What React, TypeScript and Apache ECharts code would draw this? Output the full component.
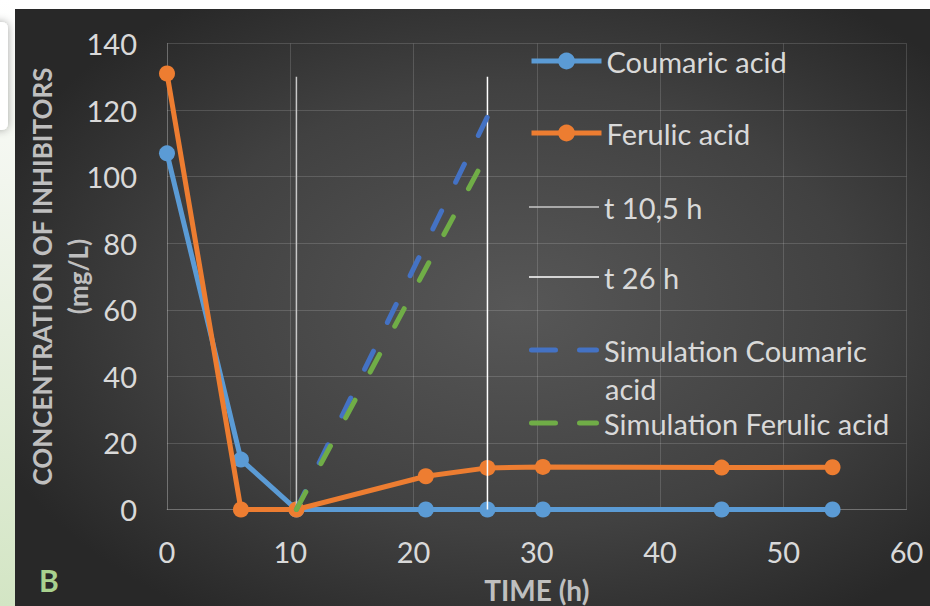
import React, { useEffect, useRef } from "react";
import * as echarts from "echarts";

const timeH = [0, 6, 10.5, 21, 26, 30.5, 45, 54];
const coumaric = [107, 15, 0, 0, 0, 0, 0, 0];
const ferulic = [131, 0, 0, 10, 12.5, 12.8, 12.6, 12.7];
const simTime = [10.5, 26];
const simCoumaric = [0, 118];
const simFerulic = [0, 107];
const t105Time = [10.5, 10.5];
const t26Time = [26, 26];
const tLineValues = [0, 130];
const seriesNames = [
  "Coumaric acid",
  "Ferulic acid",
  "t 10,5 h",
  "t 26 h",
  "Simulation Coumaric acid",
  "Simulation Ferulic acid",
];

const zip = (xs: number[], ys: number[]) => xs.map((x, i) => [x, ys[i]]);

const FONT = "Lato";
const TXT = "#d9d9d9";
const DASH_ICON =
  "path://M2.5,0 h24 a2.5,2.5 0 0 1 0,5 h-24 a2.5,2.5 0 0 1 0,-5 z M50.5,0 h17 a2.5,2.5 0 0 1 0,5 h-17 a2.5,2.5 0 0 1 0,-5 z";

export default function App() {
  const ref = useRef<HTMLDivElement>(null);
  useEffect(() => {
    const chart = echarts.init(ref.current!, null, { renderer: "svg" });
    const legendYs = [61, 133, 207, 277, 350, 423];
    const textStyle = { color: TXT, fontFamily: FONT, fontSize: 29, lineHeight: 32 };
    const legends = seriesNames.map((name, i) => {
      const base: any = {
        left: 529,
        top: legendYs[i] - 16,
        padding: 0,
        itemWidth: 70,
        itemGap: 5,
        selectedMode: false,
        formatter: (n: string) => (n === "Simulation Coumaric acid" ? "Simulation Coumaric" : n),
        textStyle,
      };
      if (i < 2) {
        return { ...base, data: [name], itemHeight: 21, lineStyle: { width: 5 } };
      }
      if (i < 4) {
        return { ...base, data: [{ name, icon: "rect" }], itemHeight: 1.5 };
      }
      return { ...base, data: [{ name, icon: DASH_ICON }], itemHeight: 5 };
    });
    chart.setOption({
      animation: false,
      graphic: [
        {
          type: "rect",
          z: -10,
          silent: true,
          shape: { x: 0, y: 0, width: 15, height: 606 },
          style: {
            fill: new echarts.graphic.LinearGradient(0, 0, 0, 1, [
              { offset: 0, color: "#ffffff" },
              { offset: 0.3, color: "#f2f6ee" },
              { offset: 1, color: "#d3e5c4" },
            ]),
          },
        },
        {
          type: "rect",
          z: -9,
          silent: true,
          shape: { x: -10, y: 22, width: 18, height: 108, r: 6 },
          style: { fill: "#ffffff", shadowBlur: 8, shadowColor: "rgba(0,0,0,0.35)" },
        },
        {
          type: "rect",
          z: -8,
          silent: true,
          shape: { x: 15, y: 9, width: 915, height: 597 },
          style: {
            fill: new echarts.graphic.RadialGradient(0.55, 0.5, 0.62, [
              { offset: 0, color: "#575757" },
              { offset: 0.6, color: "#414141" },
              { offset: 1, color: "#282828" },
            ]),
          },
        },
        {
          type: "text",
          left: 39,
          top: 565,
          style: { text: "B", fill: "#a9d18e", font: `bold 30px ${FONT}` },
        },
        {
          type: "text",
          left: 605,
          top: 388 - 16,
          style: { text: "acid", fill: TXT, font: `29px ${FONT}`, lineHeight: 32 },
        },
      ],
      legend: legends,
      grid: { left: 167, right: 23.5, top: 43.5, bottom: 96.5, outerBoundsMode: "none", containLabel: false },
      xAxis: {
        type: "value",
        min: 0,
        max: 60,
        interval: 10,
        name: "TIME (h)",
        nameLocation: "middle",
        nameGap: 66,
        nameMoveOverlap: false,
        nameTextStyle: { color: "#bfbfbf", fontFamily: FONT, fontSize: 28, fontWeight: "bold", verticalAlign: "top" },
        axisLine: { show: true, lineStyle: { color: "rgba(255,255,255,0.18)", width: 1 } },
        axisTick: { show: false },
        axisLabel: { color: TXT, fontFamily: FONT, fontSize: 29, margin: 27 },
        splitLine: { show: true, lineStyle: { color: "rgba(255,255,255,0.15)", width: 1 } },
      },
      yAxis: {
        type: "value",
        min: 0,
        max: 140,
        interval: 20,
        name: "CONCENTRATION OF INHIBITORS\n(mg/L)",
        nameLocation: "middle",
        nameRotate: 90,
        nameGap: 71,
        nameMoveOverlap: false,
        nameTextStyle: { color: "#bfbfbf", fontFamily: FONT, fontSize: 26, fontWeight: "bold", lineHeight: 36 },
        axisLine: { show: true, lineStyle: { color: "rgba(255,255,255,0.18)", width: 1 } },
        axisTick: { show: false },
        axisLabel: { color: TXT, fontFamily: FONT, fontSize: 29, margin: 30 },
        splitLine: { show: true, lineStyle: { color: "rgba(255,255,255,0.15)", width: 1 } },
      },
      series: [
        {
          name: seriesNames[0],
          type: "line",
          data: zip(timeH, coumaric),
          color: "#5B9BD5",
          symbol: "circle",
          symbolSize: 16,
          lineStyle: { width: 5 },
          z: 2,
        },
        {
          name: seriesNames[1],
          type: "line",
          data: zip(timeH, ferulic),
          color: "#ED7D31",
          symbol: "circle",
          symbolSize: 16,
          lineStyle: { width: 5 },
          z: 3,
        },
        {
          name: seriesNames[2],
          type: "line",
          data: zip(t105Time, tLineValues),
          color: "#c8c8c8",
          symbol: "none",
          lineStyle: { width: 1.5 },
          z: 4,
        },
        {
          name: seriesNames[3],
          type: "line",
          data: zip(t26Time, tLineValues),
          color: "#ffffff",
          symbol: "none",
          lineStyle: { width: 1.5 },
          z: 4,
        },
        {
          name: seriesNames[4],
          type: "line",
          data: zip(simTime, simCoumaric),
          color: "#4472C4",
          symbol: "none",
          lineStyle: { width: 5, type: [20, 32], cap: "round" },
          z: 5,
        },
        {
          name: seriesNames[5],
          type: "line",
          data: zip(simTime, simFerulic),
          color: "#70AD47",
          symbol: "none",
          lineStyle: { width: 5, type: [20, 32], cap: "round" },
          z: 6,
        },
      ],
    });
    return () => chart.dispose();
  }, []);
  return (
    <div
      ref={ref}
      style={{ position: "absolute", left: 0, top: 0, width: 930, height: 606 }}
    />
  );
}
